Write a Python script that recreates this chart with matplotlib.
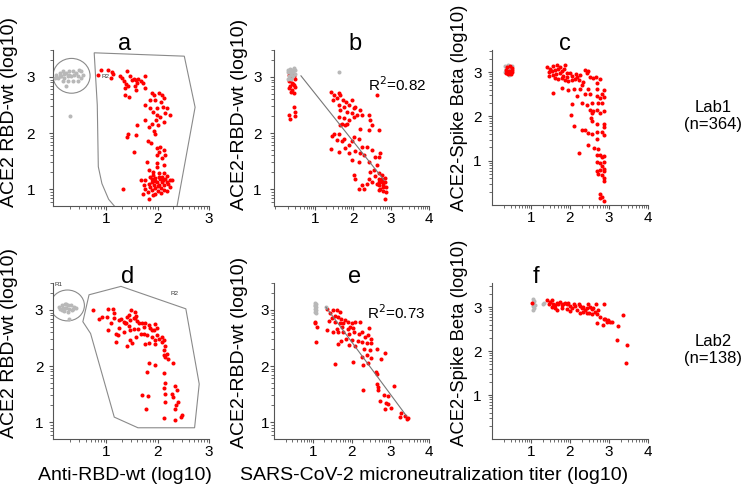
import numpy as np
import matplotlib
matplotlib.use("Agg")
import matplotlib.pyplot as plt
from matplotlib.patches import Ellipse, Polygon

plt.rcParams["font.family"] = ["Liberation Sans", "DejaVu Sans"]

RED = "#ff0000"
GREY = "#b8b8b8"
GATE = "#8a8a8a"

# ---- panel a : anti-RBD vs ACE2 RBD-wt, lab1 ----
a_red = [(0.91, 3.12), (1.03, 3.12), (0.84, 3.04), (1.11, 3.08), (1.14, 3.05), (1.10, 2.98), (1.27, 3.01),
         (1.31, 2.98), (1.41, 3.10), (1.46, 3.01), (1.51, 2.95), (1.35, 2.92), (1.38, 2.87), (1.43, 2.83),
         (1.37, 2.80), (1.55, 2.96), (1.58, 2.95), (1.63, 2.96), (1.61, 2.89), (1.67, 2.93), (1.76, 3.01),
         (1.72, 2.90), (1.56, 2.83), (1.58, 2.77), (1.75, 2.80), (1.44, 2.65), (1.37, 2.68),
         (1.89, 2.71), (1.94, 2.68), (2.02, 2.71), (2.08, 2.68), (2.12, 2.62), (2.06, 2.56), (1.96, 2.59),
         (1.86, 2.59), (1.76, 2.50), (1.85, 2.44), (1.99, 2.44), (2.10, 2.47), (2.18, 2.44), (1.91, 2.38),
         (1.99, 2.32), (2.05, 2.29), (2.15, 2.35), (2.24, 2.32), (1.76, 2.23), (1.97, 2.23), (2.01, 2.14),
         (1.89, 2.17), (2.13, 2.20), (1.83, 2.11), (1.60, 2.14), (1.58, 1.96), (1.43, 1.99), (1.40, 1.93),
         (1.94, 2.04), (1.96, 1.99), (1.81, 1.85), (1.88, 1.83), (1.99, 1.73), (2.05, 1.75), (2.02, 1.67),
         (2.12, 1.70), (2.15, 1.61), (1.99, 1.61), (2.08, 1.55), (1.79, 1.49), (1.99, 1.46), (2.12, 1.43),
         (1.54, 1.67), (1.83, 1.34), (1.99, 1.40), (1.92, 1.31), (2.02, 1.28), (2.12, 1.28), (2.18, 1.24),
         (1.85, 1.22), (1.96, 1.20), (2.05, 1.19), (2.15, 1.18), (2.24, 1.16), (2.29, 1.16), (1.76, 1.16),
         (1.89, 1.13), (1.99, 1.13), (2.08, 1.13), (2.18, 1.13), (1.67, 1.16), (1.83, 1.10), (1.94, 1.08),
         (2.03, 1.07), (2.13, 1.07), (2.21, 1.10), (1.86, 1.04), (1.96, 1.02), (2.07, 1.02), (1.76, 1.01),
         (1.90, 0.98), (2.00, 0.97), (2.12, 0.98), (1.72, 0.92), (1.81, 0.95), (1.96, 0.92), (2.06, 0.94),
         (1.33, 1.00), (1.83, 0.82), (1.92, 0.89), (2.18, 0.96), (2.24, 1.04), (1.73, 1.07), (1.89, 1.19),
         (2.02, 1.22), (2.08, 1.22), (1.95, 1.15), (2.10, 1.16), (2.00, 1.05), (1.91, 1.25)]
a_grey = [(0.03, 3.04), (0.10, 3.07), (0.16, 3.10), (0.22, 3.07), (0.29, 3.10), (0.35, 3.11), (0.42, 3.07),
          (0.48, 3.12), (0.51, 3.10), (0.55, 3.04), (0.06, 2.98), (0.13, 3.01), (0.19, 2.98), (0.26, 3.01),
          (0.32, 3.01), (0.38, 3.04), (0.45, 3.01), (0.51, 2.98), (0.16, 2.93), (0.26, 2.93), (0.35, 2.93),
          (0.45, 2.92), (0.22, 2.83), (0.00, 2.98), (0.29, 3.04), (0.19, 3.05), (0.10, 3.02), (0.30, 2.31)]
a_gate = [(0.77, 3.43), (2.52, 3.37), (2.73, 2.46), (2.35, 0.55), (1.30, 0.55), (1.05, 0.82),
          (0.92, 1.10), (0.85, 1.40), (0.83, 2.50)]
a_ellipse = (0.33, 3.02, 0.72, 0.62)

# ---- panel b : neutralization vs ACE2 RBD-wt, lab1 ----
b_red = [(0.31, 3.04), (0.40, 3.05), (0.44, 3.01), (0.35, 2.98), (0.47, 2.96), (0.31, 2.92), (0.40, 2.90),
         (0.44, 2.86), (0.35, 2.84), (0.47, 2.82), (0.40, 2.77), (0.31, 2.80), (0.44, 2.71), (0.37, 2.74),
         (0.44, 2.47), (0.47, 2.38), (0.31, 2.32), (0.33, 2.25), (0.47, 2.31), (0.35, 2.95), (0.42, 2.88),
         (1.41, 2.74), (1.49, 2.68), (1.62, 2.72), (1.67, 2.68), (1.47, 2.59), (1.58, 2.62), (1.73, 2.59),
         (1.82, 2.56), (1.98, 2.59), (1.62, 2.50), (1.76, 2.47), (1.89, 2.50), (2.02, 2.44), (2.06, 2.47),
         (1.67, 2.41), (1.84, 2.38), (1.98, 2.35), (2.19, 2.41), (2.24, 2.32), (2.11, 2.32), (2.41, 2.32),
         (1.62, 2.29), (1.76, 2.26), (1.89, 2.23), (2.02, 2.29), (1.71, 2.17), (1.84, 2.17), (1.67, 2.14),
         (1.80, 2.15), (2.50, 2.14), (2.46, 2.23), (2.19, 2.08), (2.41, 2.05), (2.68, 2.05), (1.49, 1.99),
         (1.62, 1.99), (1.76, 1.90), (1.45, 1.95), (1.58, 1.87), (1.71, 1.85), (2.02, 1.93), (2.15, 1.90),
         (1.98, 1.85), (1.89, 1.79), (2.24, 1.75), (2.37, 1.75), (2.50, 1.70), (1.41, 1.71), (1.62, 1.67),
         (1.80, 1.73), (2.06, 1.68), (2.19, 1.64), (2.28, 1.61), (1.89, 1.64), (2.59, 1.58), (2.68, 1.58),
         (2.72, 1.64), (1.98, 1.52), (2.15, 1.49), (2.41, 1.49), (2.63, 1.43), (2.46, 1.31), (2.55, 1.34),
         (2.68, 1.28), (2.76, 1.25), (2.02, 1.25), (2.06, 1.19), (2.41, 1.19), (2.59, 1.24), (2.50, 1.13),
         (2.37, 1.10), (2.24, 1.07), (2.15, 1.00), (2.28, 1.01), (2.68, 1.19), (2.76, 1.19), (2.85, 1.20),
         (2.69, 1.13), (2.76, 1.12), (2.85, 1.13), (2.69, 1.07), (2.78, 1.04), (2.87, 1.04), (2.69, 0.98),
         (2.78, 0.96), (2.87, 0.95), (2.85, 0.82), (2.62, 2.67), (2.63, 1.10), (2.80, 1.08), (2.72, 1.01)]
b_grey = [(0.29, 3.13), (0.35, 3.15), (0.40, 3.12), (0.45, 3.16), (0.29, 3.08), (0.33, 3.10), (0.38, 3.07),
          (0.43, 3.09), (0.47, 3.12), (0.31, 3.02), (0.36, 3.03), (0.41, 3.01), (0.46, 3.05), (0.28, 2.97),
          (0.38, 2.96), (1.62, 3.08)]
b_fit = (-0.85, 3.555)      # slope, intercept
b_fit_range = (0.63, 2.82)
b_r2 = "0.82"

# ---- panel c : neutralization vs ACE2 Spike Beta, lab1 ----
c_red = [(1.42, 3.12), (1.49, 3.08), (1.57, 3.14), (1.66, 3.16), (1.74, 3.12), (1.87, 3.17), (1.45, 3.01),
         (1.53, 3.02), (1.62, 3.05), (1.70, 3.07), (1.79, 3.02), (1.85, 3.08), (1.93, 2.99), (2.00, 2.97),
         (1.45, 2.92), (1.56, 2.93), (1.64, 2.95), (1.74, 2.97), (1.83, 2.92), (1.92, 2.90), (2.04, 2.92),
         (2.16, 2.95), (2.19, 2.90), (2.26, 2.93), (1.62, 2.86), (1.70, 2.84), (1.79, 2.87), (1.87, 2.82),
         (1.96, 2.80), (2.04, 2.82), (2.13, 2.84), (2.24, 2.82), (2.39, 3.05), (2.43, 2.97), (2.47, 3.02),
         (2.51, 2.90), (2.60, 2.86), (2.67, 2.90), (2.77, 2.84), (1.79, 2.65), (1.94, 2.60), (2.09, 2.62),
         (1.57, 2.54), (2.26, 2.63), (2.34, 2.78), (2.30, 2.71), (2.47, 2.63), (2.39, 2.50), (2.51, 2.50),
         (2.17, 2.47), (2.69, 2.75), (2.70, 2.63), (2.69, 2.47), (2.81, 2.50), (2.86, 2.60), (2.86, 2.45),
         (2.77, 2.41), (2.30, 2.30), (2.43, 2.26), (2.56, 2.30), (2.73, 2.30), (2.81, 2.30), (2.04, 2.27),
         (2.51, 2.15), (2.56, 2.07), (2.60, 2.12), (2.69, 2.15), (2.86, 2.12), (2.77, 2.07), (2.53, 1.97),
         (2.56, 1.90), (2.03, 2.03), (2.10, 1.79), (2.30, 1.70), (2.39, 1.70), (2.47, 1.62), (2.56, 1.60),
         (2.69, 1.82), (2.86, 1.82), (2.86, 1.77), (2.70, 1.64), (2.81, 1.64), (2.86, 1.57), (2.47, 1.35),
         (2.62, 1.29), (2.70, 1.50), (2.73, 1.27), (2.24, 1.17), (2.70, 1.14), (2.77, 1.14), (2.81, 1.08),
         (2.86, 1.10), (2.69, 0.97), (2.77, 0.95), (2.86, 0.97), (2.81, 0.87), (2.86, 0.82), (2.69, 0.76),
         (2.77, 0.78), (2.86, 0.76), (2.73, 0.70), (2.81, 0.67), (2.86, 0.61), (2.86, 0.55), (2.77, 0.25),
         (2.81, 0.18), (2.86, 0.10), (2.77, 0.15),
         (0.38, 3.12), (0.45, 3.14), (0.50, 3.10), (0.36, 3.05), (0.43, 3.02), (0.50, 3.04), (0.40, 2.96),
         (0.48, 2.95), (0.52, 3.00), (0.35, 2.98)]
c_grey = [(0.34, 3.15), (0.42, 3.16), (0.36, 3.08), (0.47, 3.08), (0.39, 2.98), (0.44, 2.93), (0.33, 3.00),
          (0.52, 3.13)]

# ---- panel d : anti-RBD vs ACE2 RBD-wt, lab2 ----
d_red = [(0.74, 3.00), (1.03, 3.01), (1.13, 3.01), (1.15, 2.94), (0.93, 2.88), (0.87, 2.83), (1.01, 2.88),
         (1.09, 2.77), (1.03, 2.64), (1.15, 2.85), (1.25, 2.82), (1.30, 2.83), (1.35, 2.79), (1.41, 2.87),
         (1.44, 2.91), (1.49, 2.99), (1.57, 2.97), (1.58, 2.89), (1.54, 2.85), (1.47, 2.82), (1.38, 2.76),
         (1.44, 2.71), (1.60, 2.81), (1.65, 2.77), (1.70, 2.76), (1.76, 2.77), (1.47, 2.64), (1.35, 2.61),
         (1.25, 2.67), (1.19, 2.58), (1.24, 2.55), (1.54, 2.66), (1.63, 2.66), (1.73, 2.70), (1.83, 2.73),
         (1.86, 2.67), (1.73, 2.58), (1.79, 2.55), (1.89, 2.64), (1.96, 2.75), (1.99, 2.67), (1.94, 2.64),
         (1.90, 2.51), (1.99, 2.55), (2.02, 2.49), (2.08, 2.52), (2.12, 2.46), (1.96, 2.46), (1.83, 2.41),
         (1.96, 2.39), (2.08, 2.43), (2.15, 2.35), (2.13, 2.29), (2.18, 2.21), (2.15, 2.17), (2.12, 2.20),
         (2.20, 2.12), (2.31, 2.06), (1.58, 2.52), (1.51, 2.41), (1.41, 2.35), (1.19, 2.43), (1.47, 2.46),
         (1.67, 2.58), (1.76, 2.39), (1.83, 2.06), (1.79, 1.90), (1.96, 2.02), (2.13, 1.87), (2.15, 1.69),
         (2.13, 1.60), (2.15, 1.51), (2.33, 1.64), (2.37, 1.57), (2.28, 1.51), (2.31, 1.45), (2.39, 1.36),
         (2.35, 1.30), (2.33, 1.24), (2.15, 1.36), (1.70, 1.48), (1.81, 1.46), (1.78, 1.24), (2.12, 1.08),
         (2.33, 1.04), (2.46, 1.10), (2.47, 1.13), (1.37, 2.76), (1.57, 2.85)]
d_grey = [(0.08, 3.05), (0.14, 3.08), (0.20, 3.10), (0.26, 3.08), (0.32, 3.09), (0.38, 3.06), (0.11, 3.02),
          (0.17, 3.03), (0.23, 3.04), (0.29, 3.02), (0.35, 3.01), (0.41, 3.03), (0.19, 2.98), (0.27, 2.97),
          (0.33, 2.99), (0.29, 2.83), (0.23, 3.10), (0.15, 2.99)]
d_gate = [(0.67, 3.27), (1.29, 3.42), (2.55, 3.02), (2.81, 1.68), (2.72, 0.90), (1.62, 0.90),
          (1.16, 1.09), (0.70, 2.58), (0.55, 2.79)]
d_ellipse = (0.25, 3.08, 0.66, 0.55)

# ---- panel e : neutralization vs ACE2 RBD-wt, lab2 ----
e_red = [(1.36, 3.01), (1.45, 2.94), (1.53, 2.99), (1.62, 2.99), (1.70, 2.97), (1.57, 2.89), (1.49, 2.85),
         (1.66, 2.87), (1.74, 2.83), (1.42, 2.81), (1.57, 2.79), (1.70, 2.77), (1.79, 2.76), (1.83, 2.82),
         (1.92, 2.79), (2.00, 2.77), (2.09, 2.79), (2.22, 2.78), (1.96, 2.70), (2.04, 2.67), (1.90, 2.66),
         (1.76, 2.70), (1.62, 2.66), (1.53, 2.61), (1.36, 2.64), (1.66, 2.61), (1.79, 2.60), (1.93, 2.58),
         (2.07, 2.61), (2.19, 2.58), (2.27, 2.60), (2.45, 2.67), (2.43, 2.55), (2.34, 2.52), (1.87, 2.49),
         (2.00, 2.46), (2.16, 2.45), (2.26, 2.43), (2.39, 2.41), (2.51, 2.41), (2.50, 2.49), (1.74, 2.45),
         (1.66, 2.39), (1.93, 2.38), (2.09, 2.35), (2.33, 2.31), (2.47, 2.29), (2.67, 2.30), (2.86, 2.23),
         (2.26, 2.17), (2.39, 2.20), (2.51, 2.14), (2.75, 2.12), (2.04, 2.08), (1.57, 2.03), (2.30, 2.02),
         (2.43, 2.05), (2.64, 1.90), (2.67, 1.85), (2.67, 1.68), (2.69, 1.63), (2.30, 1.58), (2.69, 1.57),
         (3.10, 1.64), (2.84, 1.48), (2.94, 1.46), (2.73, 1.38), (2.90, 1.34), (2.86, 1.24), (3.01, 1.26),
         (2.94, 1.32), (3.28, 1.17), (3.24, 1.10), (3.37, 1.11), (3.45, 1.07), (3.44, 1.05), (1.06, 2.79),
         (1.10, 2.70), (1.06, 2.76), (1.09, 2.43)]
e_grey = [(1.05, 3.12), (1.08, 3.10), (1.05, 3.07), (1.09, 3.05), (1.06, 3.02), (1.08, 3.00), (1.05, 2.97),
          (1.09, 2.95), (1.07, 3.08), (1.34, 3.05)]
e_fit = (-0.933, 4.30)
e_fit_range = (1.34, 3.42)
e_r2 = "0.73"

# ---- panel f : neutralization vs ACE2 Spike Beta, lab2 ----
f_red = [(1.40, 3.17), (1.45, 3.07), (1.49, 3.12), (1.53, 3.16), (1.57, 3.08), (1.62, 3.05), (1.66, 3.10),
         (1.70, 3.07), (1.74, 3.12), (1.79, 3.05), (1.83, 3.08), (1.87, 3.10), (1.92, 3.07), (1.96, 3.10),
         (2.00, 3.02), (2.04, 2.97), (2.09, 3.07), (2.13, 3.02), (2.22, 3.07), (2.26, 3.02), (2.30, 2.97),
         (2.34, 3.01), (2.39, 2.93), (2.43, 2.97), (2.47, 3.07), (2.51, 3.01), (2.56, 2.95), (2.60, 2.99),
         (2.64, 2.89), (2.69, 2.84), (2.67, 3.07), (2.73, 2.93), (2.77, 2.78), (2.86, 3.08), (2.90, 2.72),
         (2.94, 2.67), (2.98, 2.71), (3.03, 2.67), (3.07, 2.67), (2.84, 2.59), (2.69, 2.63), (2.43, 2.86),
         (2.26, 2.86), (2.50, 2.86), (3.24, 2.57), (3.35, 2.82), (3.20, 2.25), (3.47, 2.14), (3.44, 1.72),
         (1.66, 2.93), (1.79, 2.99), (1.92, 2.95), (2.00, 2.92), (1.53, 3.01), (1.62, 2.97), (2.17, 2.93),
         (2.34, 2.89), (2.56, 2.84), (2.86, 2.72), (1.02, 3.10)]
f_grey = [(1.05, 3.18), (1.08, 3.14), (1.06, 3.10), (1.09, 3.06), (1.05, 3.03), (1.08, 2.98), (1.06, 2.94),
          (1.34, 3.10), (1.30, 3.08)]

W, H = 748, 488


def px_axes(fig, left, top, w, h):
    return fig.add_axes([left / W, (H - top - h) / H, w / W, h / H])


def log_minor(lo, hi):
    return [n + np.log10(k) for n in range(int(np.floor(lo)), int(np.ceil(hi)) + 1)
            for k in range(2, 10) if lo <= n + np.log10(k) <= hi]


def style(ax, xlim, ylim, xmaj, ymaj, ypad):
    ax.set_xlim(*xlim)
    ax.set_ylim(*ylim)
    for s in ("top", "right"):
        ax.spines[s].set_visible(False)
    for s in ("left", "bottom"):
        ax.spines[s].set_color("#555555")
        ax.spines[s].set_linewidth(0.8)
    ax.set_xticks(xmaj)
    ax.set_yticks(ymaj)
    ax.set_xticklabels([str(v) for v in xmaj])
    ax.set_yticklabels([str(v) for v in ymaj])
    ax.set_xticks(log_minor(xlim[0], xlim[1]), minor=True)
    ax.set_yticks(log_minor(ylim[0], ylim[1]), minor=True)
    ax.tick_params(which="major", length=3, width=0.8, color="#555555", labelsize=11)
    ax.tick_params(which="minor", length=2, width=0.6, color="#555555")
    ax.tick_params(axis="x", which="major", pad=1)
    ax.tick_params(axis="y", which="major", pad=ypad)
    ax.patch.set_alpha(0)


def dots(ax, pts, color):
    p = np.array(pts).T
    ax.scatter(p[0], p[1], s=8.5, c=color, linewidths=0, zorder=3, clip_on=False)


fig = plt.figure(figsize=(W / 100, H / 100), dpi=100)

panels = {
    "a": px_axes(fig, 53, 50, 156, 156),
    "b": px_axes(fig, 274, 50, 155, 156),
    "c": px_axes(fig, 492, 50, 156, 155),
    "d": px_axes(fig, 53, 283, 156, 156),
    "e": px_axes(fig, 274, 283, 155, 156),
    "f": px_axes(fig, 492, 283, 156, 156),
}

style(panels["a"], (-0.03, 3.0), (0.7, 3.48), [1, 2, 3], [1, 2, 3], 10)
style(panels["b"], (-0.08, 4.0), (0.7, 3.48), [1, 2, 3, 4], [1, 2, 3], 6)
style(panels["c"], (0.0, 4.0), (0.0, 3.5), [1, 2, 3, 4], [1, 2, 3], 4.5)
style(panels["d"], (-0.03, 3.0), (0.7, 3.48), [1, 2, 3], [1, 2, 3], 4)
style(panels["e"], (0.0, 4.0), (0.7, 3.48), [1, 2, 3, 4], [1, 2, 3], 0.5)
style(panels["f"], (0.0, 4.0), (0.0, 3.55), [1, 2, 3, 4], [1, 2, 3], 4.5)

# gates
for key, gate, ell in (("a", a_gate, a_ellipse), ("d", d_gate, d_ellipse)):
    ax = panels[key]
    ax.add_patch(Polygon(gate, closed=True, fill=False, ec=GATE, lw=0.8))
    ax.add_patch(Ellipse(ell[:2], ell[2], ell[3], fill=False, ec=GATE, lw=0.8))
panels["a"].text(0.99, 3.0, "R2", fontsize=4.5, color="#333333", ha="center", va="center")
panels["d"].text(0.08, 3.45, "R1", fontsize=4.5, color="#333333", ha="center", va="center")
panels["d"].text(2.33, 3.30, "R2", fontsize=4.5, color="#333333", ha="center", va="center")

for key, red, grey in (("a", a_red, a_grey), ("b", b_red, b_grey), ("c", c_red, c_grey),
                       ("d", d_red, d_grey), ("e", e_red, e_grey), ("f", f_red, f_grey)):
    if key in ("c", "f"):
        dots(panels[key], grey, GREY)
        dots(panels[key], red, RED)
    else:
        dots(panels[key], red, RED)
        dots(panels[key], grey, GREY)

# regression lines
for key, fit, rng, r2, pos in (("b", b_fit, b_fit_range, b_r2, (2.39, 2.86)),
                               ("e", e_fit, e_fit_range, e_r2, (2.41, 2.96))):
    xs = np.array(rng)
    panels[key].plot(xs, fit[0] * xs + fit[1], color="#777777", lw=0.8, zorder=4)
    panels[key].text(pos[0], pos[1], "R$^2$=" + r2, fontsize=11, ha="left", va="center")

# panel letters
for key, xf in (("a", 0.46), ("b", 0.52), ("c", 0.47), ("d", 0.48), ("e", 0.52), ("f", 0.28)):
    panels[key].text(xf, 1.0, key, transform=panels[key].transAxes, fontsize=17,
                     ha="center", va="baseline")

# axis labels
lab_kw = dict(fontsize=14, rotation=90, ha="center", va="center")
fig.text(10 / W, 1 - 112 / H, "ACE2 RBD-wt (log10)", **lab_kw)
fig.text(10 / W, 1 - 343 / H, "ACE2 RBD-wt (log10)", **lab_kw)
fig.text(240 / W, 1 - 114 / H, "ACE2-RBD-wt (log10)", **lab_kw)
fig.text(240 / W, 1 - 352 / H, "ACE2-RBD-wt (log10)", **lab_kw)
lab_kw["fontsize"] = 13.3
fig.text(459 / W, 1 - 108 / H, "ACE2-Spike Beta (log10)", **lab_kw)
fig.text(459 / W, 1 - 343 / H, "ACE2-Spike Beta (log10)", **lab_kw)
fig.text(125 / W, 1 - 476 / H, "Anti-RBD-wt (log10)", fontsize=14, ha="center", va="center")
fig.text(434 / W, 1 - 476 / H, "SARS-CoV-2 microneutralization titer (log10)", fontsize=14,
         ha="center", va="center")

# lab annotations
fig.text(713 / W, 1 - 108 / H, "Lab1", fontsize=12, ha="center", va="center")
fig.text(713 / W, 1 - 125 / H, "(n=364)", fontsize=12, ha="center", va="center")
fig.text(713 / W, 1 - 341 / H, "Lab2", fontsize=12, ha="center", va="center")
fig.text(713 / W, 1 - 358 / H, "(n=138)", fontsize=12, ha="center", va="center")

fig.savefig("out.png", dpi=100)
